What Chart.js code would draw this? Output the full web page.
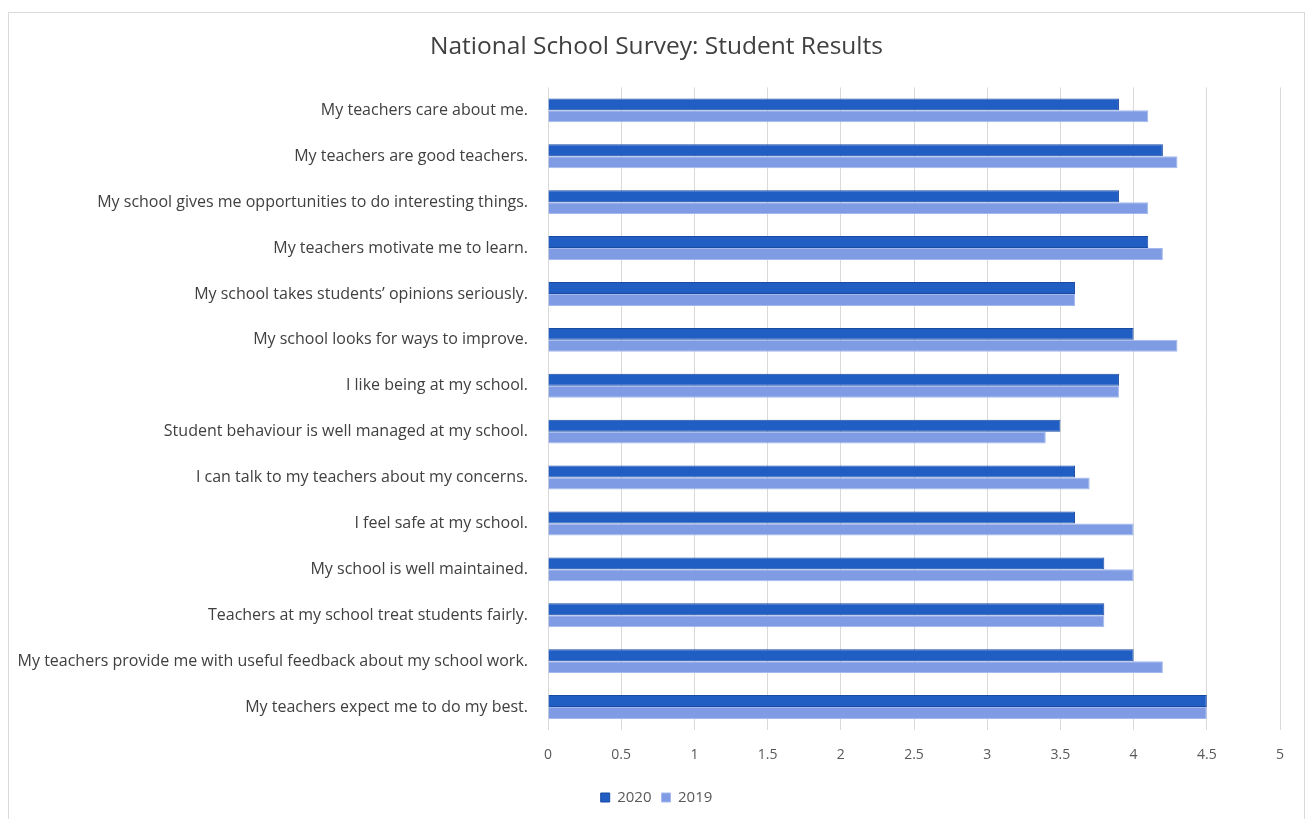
<!DOCTYPE html>
<html lang="en">
<head>
  <meta charset="UTF-8">
  <title>National School Survey: Student Results</title>
  <script src="https://cdn.jsdelivr.net/npm/chart.js@4.4.1/dist/chart.umd.min.js"></script>
  <style>
    html, body { margin: 0; padding: 0; background: #fff; overflow: hidden; }
    #frame {
      position: absolute; left: 8px; top: 12px;
      width: 1297px; height: 820px;
      border: 1px solid #d9d9d9;
      box-sizing: border-box;
    }
    #wrap { position: absolute; left: 0; top: 0; width: 1295px; height: 806px; }
  </style>
</head>
<body>
<div id="frame"><div id="wrap"><canvas id="surveyChart"></canvas></div></div>

<script>
  // survey statements, top to bottom
  const statements = [
    "My teachers care about me.",
    "My teachers are good teachers.",
    "My school gives me opportunities to do interesting things.",
    "My teachers motivate me to learn.",
    "My school takes students\u2019 opinions seriously.",
    "My school looks for ways to improve.",
    "I like being at my school.",
    "Student behaviour is well managed at my school.",
    "I can talk to my teachers about my concerns.",
    "I feel safe at my school.",
    "My school is well maintained.",
    "Teachers at my school treat students fairly.",
    "My teachers provide me with useful feedback about my school work.",
    "My teachers expect me to do my best."
  ];
  const results2020 = [3.9, 4.2, 3.9, 4.1, 3.6, 4.0, 3.9, 3.5, 3.6, 3.6, 3.8, 3.8, 4.0, 4.5];
  const results2019 = [4.1, 4.3, 4.1, 4.2, 3.6, 4.3, 3.9, 3.4, 3.7, 4.0, 4.0, 3.8, 4.2, 4.5];
  const seriesNames = ["2020", "2019"];

  const fontFamily = "'Open Sans', Lato, sans-serif";
  const textGrey = "#595959";

  // title and legend should sit centred on the frame, not on the padded area
  const centreOnFrame = {
    id: "centreOnFrame",
    afterLayout(chart) {
      if (chart.titleBlock) chart.titleBlock.left += 24;
      if (chart.legend) chart.legend.left += 24;
    }
  };

  new Chart(document.getElementById("surveyChart"), {
    type: "bar",
    data: {
      labels: statements,
      datasets: [
        {
          label: seriesNames[0],
          data: results2020,
          backgroundColor: "#215ec4",
          borderColor: "#1a4ba3",
          borderWidth: 1
        },
        {
          label: seriesNames[1],
          data: results2019,
          backgroundColor: "#7e9be3",
          borderColor: "#a3b8ee",
          borderWidth: 1
        }
      ]
    },
    options: {
      indexAxis: "y",
      responsive: true,
      maintainAspectRatio: false,
      animation: false,
      categoryPercentage: 0.52,
      barPercentage: 1.0,
      layout: { padding: { top: 0, bottom: 4, left: 0, right: 24 } },
      scales: {
        x: {
          min: 0,
          max: 5,
          ticks: {
            stepSize: 0.5,
            color: textGrey,
            padding: 17,
            font: { family: fontFamily, size: 14 },
            callback: (v) => String(v)
          },
          grid: { color: "#d9d9d9", lineWidth: 1, drawTicks: false },
          border: { display: false },
          afterFit: (scale) => { scale.height = 50; }
        },
        y: {
          ticks: {
            color: "#404040",
            padding: 20,
            autoSkip: false,
            font: { family: fontFamily, size: 16 }
          },
          grid: { display: false, drawTicks: false },
          border: { display: false },
          afterFit: (scale) => { scale.width = 539; }
        }
      },
      plugins: {
        title: {
          display: true,
          text: "National School Survey: Student Results",
          color: "#404040",
          font: { family: fontFamily, size: 24.5, weight: "normal" },
          padding: { top: 19, bottom: 26 }
        },
        legend: {
          position: "bottom",
          labels: {
            color: textGrey,
            boxWidth: 9,
            boxHeight: 9,
            padding: 10,
            font: { family: fontFamily, size: 15 }
          }
        },
        tooltip: { enabled: false }
      },
      events: []
    },
    plugins: [centreOnFrame]
  });
</script>
</body>
</html>
